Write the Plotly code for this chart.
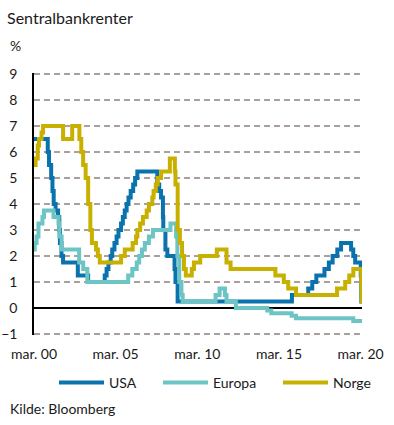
import plotly.graph_objects as go

# ---- data (policy rate change dates and levels, %) ----
usa_dates = ["2000-03-01", "2001-01-03", "2001-01-31", "2001-03-20", "2001-04-18", "2001-05-15",
             "2001-06-27", "2001-08-21", "2001-09-17", "2001-10-02", "2001-11-06", "2001-12-11",
             "2002-11-06", "2003-06-25", "2004-06-30", "2004-08-10", "2004-09-21", "2004-11-10",
             "2004-12-14", "2005-02-02", "2005-03-22", "2005-05-03", "2005-06-30", "2005-08-09",
             "2005-09-20", "2005-11-01", "2005-12-13", "2006-01-31", "2006-03-28", "2006-05-10",
             "2006-06-29", "2007-09-18", "2007-10-31", "2007-12-11", "2008-01-22", "2008-01-30",
             "2008-03-18", "2008-04-30", "2008-10-08", "2008-10-29", "2008-12-16", "2015-12-16",
             "2016-12-14", "2017-03-15", "2017-06-14", "2017-12-13", "2018-03-21", "2018-06-13",
             "2018-09-26", "2018-12-19", "2019-07-31", "2019-09-18", "2019-10-30", "2020-03-03",
             "2020-03-15", "2020-03-31"]
usa_vals = [6.5, 6.0, 5.5, 5.0, 4.5, 4.0,
            3.75, 3.5, 3.0, 2.5, 2.0, 1.75,
            1.25, 1.0, 1.25, 1.5, 1.75, 2.0,
            2.25, 2.5, 2.75, 3.0, 3.25, 3.5,
            3.75, 4.0, 4.25, 4.5, 4.75, 5.0,
            5.25, 4.75, 4.5, 4.25, 3.5, 3.0,
            2.25, 2.0, 1.5, 1.0, 0.25, 0.5,
            0.75, 1.0, 1.25, 1.5, 1.75, 2.0,
            2.25, 2.5, 2.25, 2.0, 1.75, 1.25,
            0.25, 0.25]

eur_dates = ["2000-03-01", "2000-03-17", "2000-04-28", "2000-06-09", "2000-09-06", "2000-10-11",
             "2001-05-11", "2001-08-31", "2001-09-18", "2001-11-09", "2002-12-06", "2003-03-07",
             "2003-06-06", "2005-12-06", "2006-03-08", "2006-06-15", "2006-08-09", "2006-10-11",
             "2006-12-13", "2007-03-14", "2007-06-13", "2008-07-09", "2008-11-12", "2008-12-10",
             "2009-01-21", "2009-03-11", "2009-04-08", "2011-04-13", "2011-07-13", "2011-11-09",
             "2011-12-14", "2012-07-11", "2014-06-11", "2014-09-10", "2015-12-09", "2016-03-16",
             "2019-09-18", "2020-03-31"]
eur_vals = [2.25, 2.5, 2.75, 3.25, 3.5, 3.75,
            3.5, 3.25, 2.75, 2.25, 1.75, 1.5,
            1.0, 1.25, 1.5, 1.75, 2.0, 2.25,
            2.5, 2.75, 3.0, 3.25, 2.75, 2.0,
            1.0, 0.5, 0.25, 0.5, 0.75, 0.5,
            0.25, 0.0, -0.1, -0.2, -0.3, -0.4,
            -0.5, -0.5]

nor_dates = ["2000-03-01", "2000-04-05", "2000-05-24", "2000-06-21", "2000-08-16", "2000-09-20",
             "2001-12-12", "2002-07-03", "2002-12-11", "2003-01-22", "2003-03-05", "2003-04-30",
             "2003-06-25", "2003-08-13", "2003-09-17", "2003-12-17", "2004-01-28", "2004-03-11",
             "2005-06-30", "2005-09-22", "2006-03-16", "2006-05-31", "2006-06-29", "2006-08-30",
             "2006-11-01", "2007-01-24", "2007-03-15", "2007-05-30", "2007-06-27", "2007-08-15",
             "2007-09-26", "2007-12-12", "2008-06-25", "2008-10-15", "2008-10-29", "2008-12-17",
             "2009-02-04", "2009-03-25", "2009-05-06", "2009-06-17", "2009-10-28", "2009-12-16",
             "2010-05-05", "2011-05-12", "2011-12-14", "2012-03-14", "2014-12-11", "2015-06-18",
             "2015-09-24", "2016-03-17", "2018-09-20", "2019-03-21", "2019-06-20", "2019-09-19",
             "2020-03-13", "2020-03-20", "2020-03-31"]
nor_vals = [5.5, 5.75, 6.25, 6.5, 6.75, 7.0,
            6.5, 7.0, 6.5, 6.0, 5.5, 5.0,
            4.0, 3.0, 2.5, 2.25, 2.0, 1.75,
            2.0, 2.25, 2.5, 2.75, 3.0, 3.25,
            3.5, 3.75, 4.0, 4.25, 4.5, 4.75,
            5.0, 5.25, 5.75, 5.25, 4.75, 3.0,
            2.5, 2.0, 1.5, 1.25, 1.5, 1.75,
            2.0, 2.25, 1.75, 1.5, 1.25, 1.0,
            0.75, 0.5, 0.75, 1.0, 1.25, 1.5,
            1.0, 0.25, 0.25]

tick_dates = ["2000-03-01", "2005-03-01", "2010-03-01", "2015-03-01", "2020-03-01"]
tick_labels = ["mar. 00", "mar. 05", "mar. 10", "mar. 15", "mar. 20"]
y_ticks = [-1, 0, 1, 2, 3, 4, 5, 6, 7, 8, 9]

FONT = "Lato"
TXT = "#1a1a1a"
W, H = 394, 425
ML, MR, MT, MB = 34, 32, 73, 90
PW, PH = W - ML - MR, H - MT - MB


def px2paper(px, py):
    return (px - ML) / PW, (H - MB - py) / PH


fig = go.Figure()
series = [("USA", usa_dates, usa_vals, "#0a72ad", "legend", 59),
          ("Europa", eur_dates, eur_vals, "#6cc5c4", "legend2", 163),
          ("Norge", nor_dates, nor_vals, "#c8b000", "legend3", 283)]
legends = {}
for name, d, v, c, lg, lx in series:
    fig.add_trace(go.Scatter(x=d, y=v, mode="lines", name=name, legend=lg,
                             line=dict(color=c, width=4, shape="hv")))
    x0, y0 = px2paper(lx - 5, 383)
    legends[lg] = dict(orientation="h", x=x0, xanchor="left", y=y0, yanchor="middle",
                       font=dict(size=14, color=TXT, family=FONT), itemwidth=45,
                       bgcolor="rgba(0,0,0,0)", borderwidth=0)

fig.update_layout(
    width=W, height=H,
    margin=dict(l=ML, r=MR, t=MT, b=MB, autoexpand=False),
    plot_bgcolor="white", paper_bgcolor="white",
    font=dict(family=FONT, size=14, color=TXT),
    showlegend=True,
    xaxis=dict(type="date", range=["2000-03-01", "2020-03-31"], showgrid=False,
               zeroline=False, showline=False, tickvals=tick_dates, ticktext=tick_labels,
               ticks="", tickfont=dict(size=14, color=TXT), ticklabelstandoff=9,
               automargin=False),
    yaxis=dict(range=[-1.04, 9.04], tickvals=y_ticks, showgrid=True, gridcolor="#aaa19c",
               gridwidth=1.5, griddash="6px,4px", zeroline=True, zerolinecolor="black",
               zerolinewidth=1.5, showline=True, linecolor="black", linewidth=1.5,
               ticks="", tickfont=dict(size=14, color=TXT), ticklabelstandoff=12,
               automargin=False),
    **legends,
)

texts = [("Sentralbankrenter", 5, 17, 16), ("%", 8, 45, 14), ("Kilde: Bloomberg", 8, 408, 14)]
anns = []
for t, px, py, size in texts:
    x, y = px2paper(px, py)
    anns.append(dict(text=t, x=x, y=y, xref="paper", yref="paper", xanchor="left",
                     yanchor="middle", showarrow=False,
                     font=dict(size=size, color=TXT, family=FONT)))
fig.update_layout(annotations=anns)

fig.write_html("out.html")
